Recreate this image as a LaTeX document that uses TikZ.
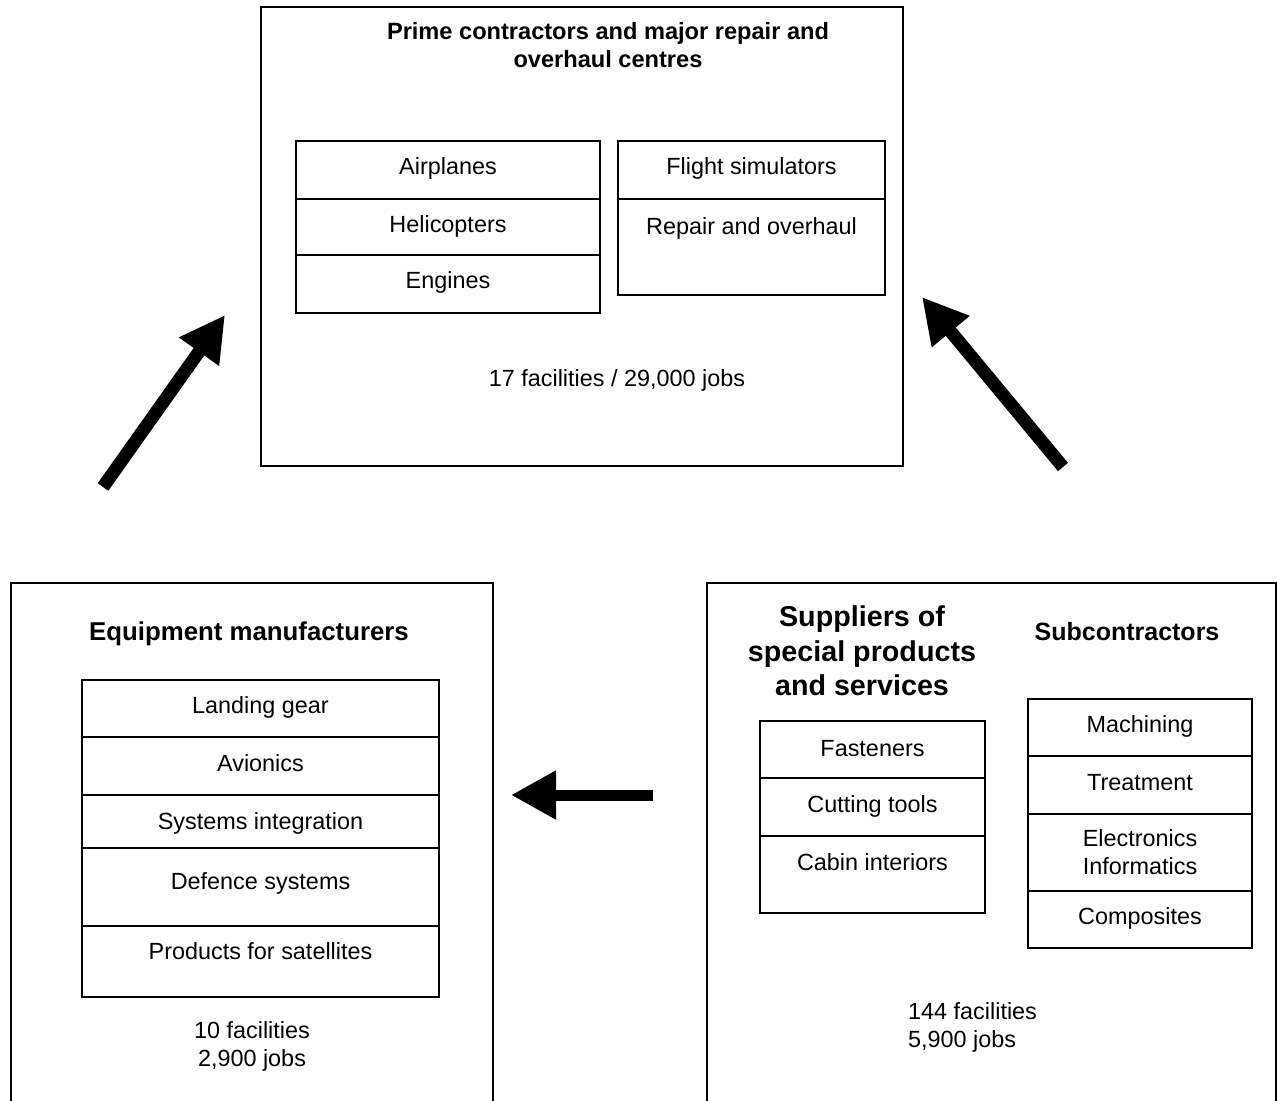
\documentclass[tikz,border=0pt]{standalone}
\usepackage{fontspec}
\setmainfont{Liberation Sans}
\usetikzlibrary{arrows.meta}
\begin{document}
\begin{tikzpicture}[x=1pt,y=-1pt,
  box/.style={draw, line width=1.2pt},
  txt/.style={anchor=base, inner sep=0pt, font=\fontsize{23.4}{28}\selectfont},
  tophead/.style={anchor=base, inner sep=0pt, font=\bfseries\fontsize{23.6}{28}\selectfont},
  eqhead/.style={anchor=base, inner sep=0pt, font=\bfseries\fontsize{25.8}{30}\selectfont},
  subhead/.style={anchor=base, inner sep=0pt, font=\bfseries\fontsize{25}{30}\selectfont},
  suphead/.style={anchor=base, inner sep=0pt, font=\bfseries\fontsize{28.7}{34}\selectfont},
  bigarrow/.style={line width=13pt, -{Triangle[length=45pt,width=46pt]}}
]
\useasboundingbox (0,0) rectangle (1278,1101);
\fill[white] (0,0) rectangle (1278,1101);

% ---------- top box ----------
\draw[box] (261,7) rectangle (903,466);
\node[tophead] (t1) at (608,39) {Prime contractors and major repair and};
\node[tophead] (t2) at (608,67) {overhaul centres};

\draw[box] (296,141) rectangle (600,313);
\draw[box] (296,199) -- (600,199);
\draw[box] (296,255) -- (600,255);
\node[txt] (airplanes) at (448,174) {Airplanes};
\node[txt] (helicopters) at (448,232) {Helicopters};
\node[txt] (engines) at (448,288) {Engines};

\draw[box] (618,141) rectangle (885,295);
\draw[box] (618,199) -- (885,199);
\node[txt] (flight) at (751.5,174) {Flight simulators};
\node[txt] (repair) at (751.5,234) {Repair and overhaul};

\node[txt] (topfac) at (617,386) {17 facilities / 29,000 jobs};

% ---------- bottom left box ----------
\draw[box] (11,1101) -- (11,583) -- (493,583) -- (493,1101);
\node[eqhead] (eq) at (249,640) {Equipment manufacturers};
\draw[box] (82,680) rectangle (439,997);
\draw[box] (82,737) -- (439,737);
\draw[box] (82,795) -- (439,795);
\draw[box] (82,848) -- (439,848);
\draw[box] (82,926) -- (439,926);
\node[txt] (landing) at (260.5,713) {Landing gear};
\node[txt] (avionics) at (260.5,771) {Avionics};
\node[txt] (sysint) at (260.5,829) {Systems integration};
\node[txt] (defence) at (260.5,889) {Defence systems};
\node[txt] (sat) at (260.5,959) {Products for satellites};
\node[txt] (eqfac1) at (252,1038) {10 facilities};
\node[txt] (eqfac2) at (252,1066) {2,900 jobs};

% ---------- bottom right box ----------
\draw[box] (707,1101) -- (707,583) -- (1276,583) -- (1276,1101);
\node[suphead] (sup1) at (862,626) {Suppliers of};
\node[suphead] (sup2) at (862,661) {special products};
\node[suphead] (sup3) at (862,695) {and services};
\node[subhead] (subc) at (1127,640) {Subcontractors};

\draw[box] (760,721) rectangle (985,913);
\draw[box] (760,778) -- (985,778);
\draw[box] (760,836) -- (985,836);
\node[txt] (fast) at (872.5,756) {Fasteners};
\node[txt] (cut) at (872.5,812) {Cutting tools};
\node[txt] (cabin) at (872.5,870) {Cabin interiors};

\draw[box] (1028,699) rectangle (1252,948);
\draw[box] (1028,756) -- (1252,756);
\draw[box] (1028,814) -- (1252,814);
\draw[box] (1028,891) -- (1252,891);
\node[txt] (mach) at (1140,732) {Machining};
\node[txt] (treat) at (1140,790) {Treatment};
\node[txt] (elec) at (1140,846) {Electronics};
\node[txt] (info) at (1140,874) {Informatics};
\node[txt] (comp) at (1140,924) {Composites};

\node[txt, anchor=base west] (rfac1) at (908,1019) {144 facilities};
\node[txt, anchor=base west] (rfac2) at (908,1047) {5,900 jobs};

% ---------- arrows ----------
\coordinate (a1s) at (103,487);
\coordinate (a1e) at (225,315);
\draw[bigarrow] (a1s) -- (a1e);
\coordinate (a2s) at (1063,467);
\coordinate (a2e) at (922,297);
\draw[bigarrow] (a2s) -- (a2e);
\coordinate (a3s) at (653,795);
\coordinate (a3e) at (511,795);
\draw[bigarrow, line width=11pt] (a3s) -- (a3e);
\end{tikzpicture}
\end{document}
